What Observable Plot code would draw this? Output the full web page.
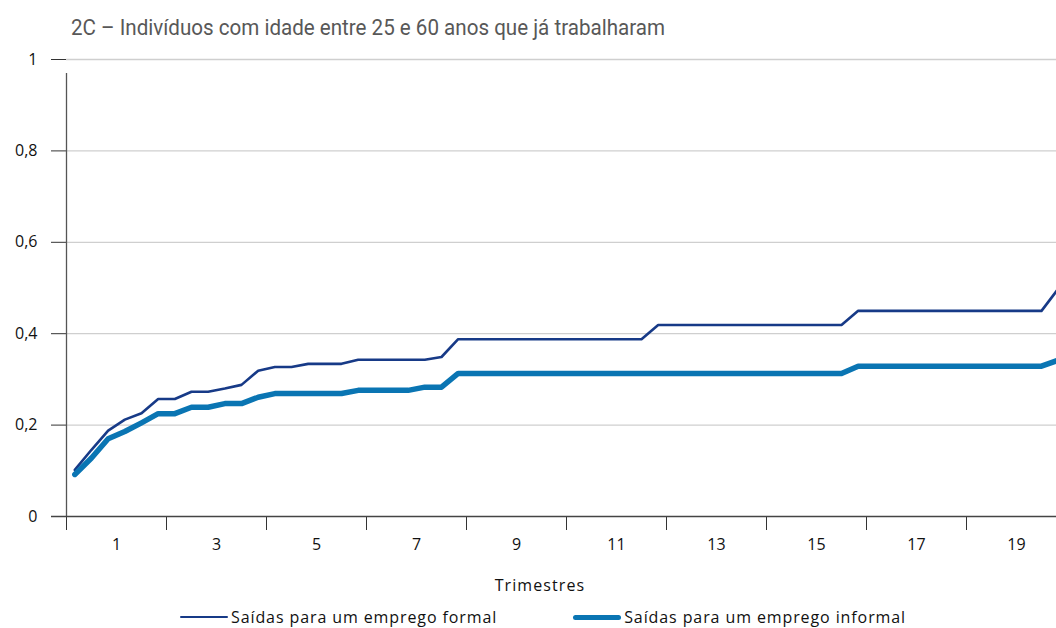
<!DOCTYPE html>
<html>
<head>
<meta charset="utf-8">
<script src="https://cdn.jsdelivr.net/npm/d3@7"></script>
<script src="https://cdn.jsdelivr.net/npm/@observablehq/plot@0.6"></script>
<style>
  html, body { margin: 0; padding: 0; background: #fff; }
  #wrap { position: relative; width: 1056px; height: 628px; overflow: hidden; font-family: "Open Sans", "Noto Sans", sans-serif; }
  #title { position: absolute; left: 71px; top: 15px; font-family: Roboto, "Noto Sans", sans-serif; font-size: 22px; color: #585858; white-space: nowrap; transform-origin: 0 50%; }
  #chart { position: absolute; left: 0; top: 40px; }
  #xlabel { position: absolute; top: 574px; left: 0; width: 1080px; text-align: center; font-size: 16px; color: #111; letter-spacing: 1.1px; }
  #legend { position: absolute; top: 606px; left: 180px; display: flex; align-items: center; font-size: 16px; color: #111; letter-spacing: 0.9px; white-space: nowrap; }
  .sw { display: inline-block; width: 48px; margin-right: 3px; border-radius: 3px; }
</style>
</head>
<body>
<div id="wrap">
  <div id="title">2C – Indivíduos com idade entre 25 e 60 anos que já trabalharam</div>
  <div id="chart"></div>
  <div id="xlabel">Trimestres</div>
  <div id="legend">
    <span class="sw" style="height:2.5px;background:#173a87"></span><span>Saídas para um emprego formal</span>
    <span style="display:inline-block;width:76px"></span>
    <span class="sw" style="height:5px;background:#0a75b3"></span><span>Saídas para um emprego informal</span>
  </div>
</div>
<script>
// Month index (1..60) within the follow-up period
const meses = [1,2,3,4,5,6,7,8,9,10,11,12,13,14,15,16,17,18,19,20,
  21,22,23,24,25,26,27,28,29,30,31,32,33,34,35,36,37,38,39,40,
  41,42,43,44,45,46,47,48,49,50,51,52,53,54,55,56,57,58,59,60];

const formal = [0.102,0.146,0.188,0.212,0.226,0.257,0.257,0.273,0.273,0.280,
  0.288,0.319,0.327,0.327,0.334,0.334,0.334,0.343,0.343,0.343,
  0.343,0.343,0.349,0.388,0.388,0.388,0.388,0.388,0.388,0.388,
  0.388,0.388,0.388,0.388,0.388,0.419,0.419,0.419,0.419,0.419,
  0.419,0.419,0.419,0.419,0.419,0.419,0.419,0.450,0.450,0.450,
  0.450,0.450,0.450,0.450,0.450,0.450,0.450,0.450,0.450,0.498];

const informal = [0.092,0.128,0.170,0.186,0.205,0.225,0.225,0.239,0.239,0.247,
  0.247,0.261,0.269,0.269,0.269,0.269,0.269,0.276,0.276,0.276,
  0.276,0.283,0.283,0.313,0.313,0.313,0.313,0.313,0.313,0.313,
  0.313,0.313,0.313,0.313,0.313,0.313,0.313,0.313,0.313,0.313,
  0.313,0.313,0.313,0.313,0.313,0.313,0.313,0.329,0.329,0.329,
  0.329,0.329,0.329,0.329,0.329,0.329,0.329,0.329,0.329,0.342];

const xTickMarks = [0,2,4,6,8,10,12,14,16,18];
const xTickLabels = [1,3,5,7,9,11,13,15,17,19];
const yTicks = [0,0.2,0.4,0.6,0.8,1];

const rows = [];
meses.forEach((m, i) => {
  rows.push({q: (m - 0.5) / 3, v: formal[i], s: "formal"});
  rows.push({q: (m - 0.5) / 3, v: informal[i], s: "informal"});
});

const fmtY = d => d === 0 ? "0" : d === 1 ? "1" : d.toFixed(1).replace(".", ",");

const chart = Plot.plot({
  width: 1056,
  height: 560,
  marginLeft: 66,
  marginRight: 0,
  marginTop: 19,
  marginBottom: 84,
  style: {fontFamily: "'Open Sans', 'Noto Sans', sans-serif", fontSize: "16px", color: "#111"},
  x: {domain: [0, 19.8]},
  y: {domain: [0, 1]},
  marks: [
    Plot.gridY(yTicks.filter(d => d > 0), {stroke: "#cfcfcf", strokeOpacity: 1, strokeWidth: 1.3}),
    Plot.axisY({ticks: yTicks, tickSize: 15, tickPadding: 14, tickFormat: fmtY, stroke: "#333", fill: "#111", fontSize: 16, label: null}),
    Plot.axisX({ticks: xTickMarks, tickSize: 14, tickFormat: () => "", stroke: "#333", label: null}),
    Plot.axisX({ticks: xTickLabels, tickSize: 0, tickPadding: 22, tickFormat: d => String(d), fill: "#111", fontSize: 16, label: null}),
    Plot.ruleX([0], {y1: 0, y2: 1, insetBottom: -14, stroke: "#555", strokeWidth: 1.3}),
    Plot.ruleY([0], {insetLeft: -15, stroke: "#444", strokeWidth: 1.3}),
    Plot.line(rows.filter(d => d.s === "formal"), {x: "q", y: "v", stroke: "#173a87", strokeWidth: 2.6, clip: true}),
    Plot.line(rows.filter(d => d.s === "informal"), {x: "q", y: "v", stroke: "#0a75b3", strokeWidth: 5.5, clip: true})
  ]
});
document.getElementById("chart").appendChild(chart);

// Condense the title to the reference's width
const t = document.getElementById("title");
const w = t.getBoundingClientRect().width;
t.style.transform = `scaleX(${594 / w})`;
</script>
</body>
</html>
